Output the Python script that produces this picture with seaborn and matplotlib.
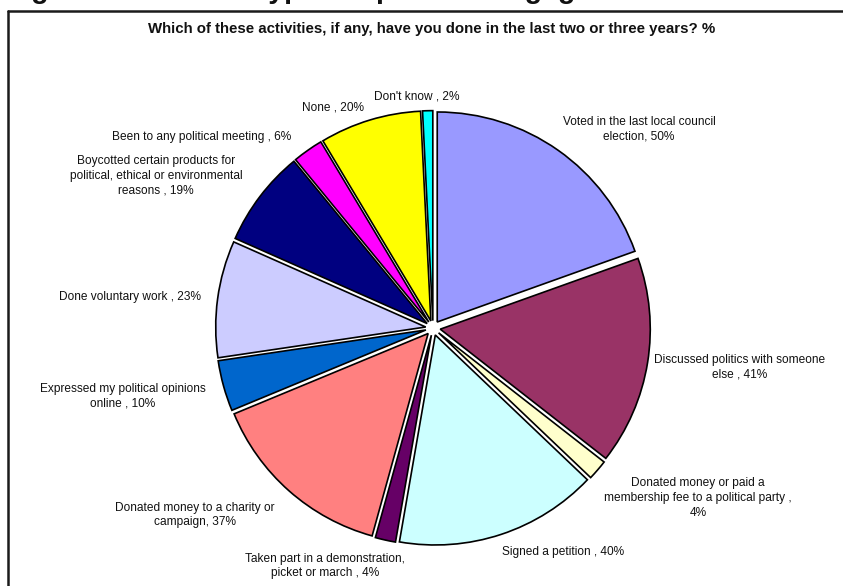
import numpy as np
import matplotlib
matplotlib.use("Agg")
import matplotlib.pyplot as plt
from matplotlib.lines import Line2D
import seaborn as sns

# data
activities = [
    "Voted in the last local council\nelection, 50%",
    "Discussed politics with someone\nelse , 41%",
    "Donated money or paid a\nmembership fee to a political party ,\n4%",
    "Signed a petition , 40%",
    "Taken part in a demonstration,\npicket or march , 4%",
    "Donated money to a charity or\ncampaign, 37%",
    "Expressed my political opinions\nonline , 10%",
    "Done voluntary work , 23%",
    "Boycotted certain products for\npolitical, ethical or environmental\nreasons , 19%",
    "Been to any political meeting , 6%",
    "None , 20%",
    "Don't know , 2%",
]
percent = [50, 41, 4, 40, 4, 37, 10, 23, 19, 6, 20, 2]

colors = ["#9999FF", "#993366", "#FFFFCC", "#CCFFFF", "#660066", "#FF8080",
          "#0066CC", "#CCCCFF", "#000080", "#FF00FF", "#FFFF00", "#00FFFF"]

# where Excel put each label, in pie-radius units from the centre
label_pos = [(0.981, 0.948), (1.462, -0.186), (1.262, -0.810), (0.619, -1.067),
             (-0.514, -1.133), (-1.133, -0.890), (-1.476, -0.324), (-1.443, 0.148),
             (-1.319, 0.724), (-1.100, 0.910), (-0.476, 1.052), (-0.076, 1.100)]

title = "Figure 1: Different types of political engagement"
subtitle = "Which of these activities, if any, have you done in the last two or three years? %"

sns.set_theme(style="white")
plt.rcParams["font.family"] = ["Liberation Sans", "DejaVu Sans"]

W, H = 843, 586
fig = plt.figure(figsize=(W / 100, H / 100), dpi=100)
ax = fig.add_axes([0, 0, 1, 1])

cx, cy, r = 433, H - 328, 210.0

ax.pie(percent, colors=colors, startangle=90, counterclock=False,
       explode=[0.035] * len(percent),
       wedgeprops=dict(edgecolor="black", linewidth=1.2))

for txt, (lx, ly) in zip(activities, label_pos):
    ax.text(lx, ly, txt, ha="center", va="center", multialignment="center",
            fontsize=8.6, color="#111111", linespacing=1.3)

ax.set_xlim(-cx / r, (W - cx) / r)
ax.set_ylim(-cy / r, (H - cy) / r)
ax.set_aspect("auto")
ax.axis("off")

# chart frame (right and bottom edges fall outside the crop)
fig.add_artist(Line2D([8 / W, 8 / W], [0, 1 - 10.5 / H], color="#1a1a1a", lw=1.8))
fig.add_artist(Line2D([8 / W, 1], [1 - 10.5 / H, 1 - 10.5 / H], color="#1a1a1a", lw=1.8))

fig.text(432 / W, 1 - 29.5 / H, subtitle, ha="center", va="center",
         fontsize=10.8, fontweight="bold", color="#111111")
# document heading, mostly cut off above the image
fig.text(6 / W, 1 + 2 / H, title, ha="left", va="baseline",
         fontsize=20.5, fontweight="bold", color="#111111")

fig.savefig("out.png", dpi=100)
